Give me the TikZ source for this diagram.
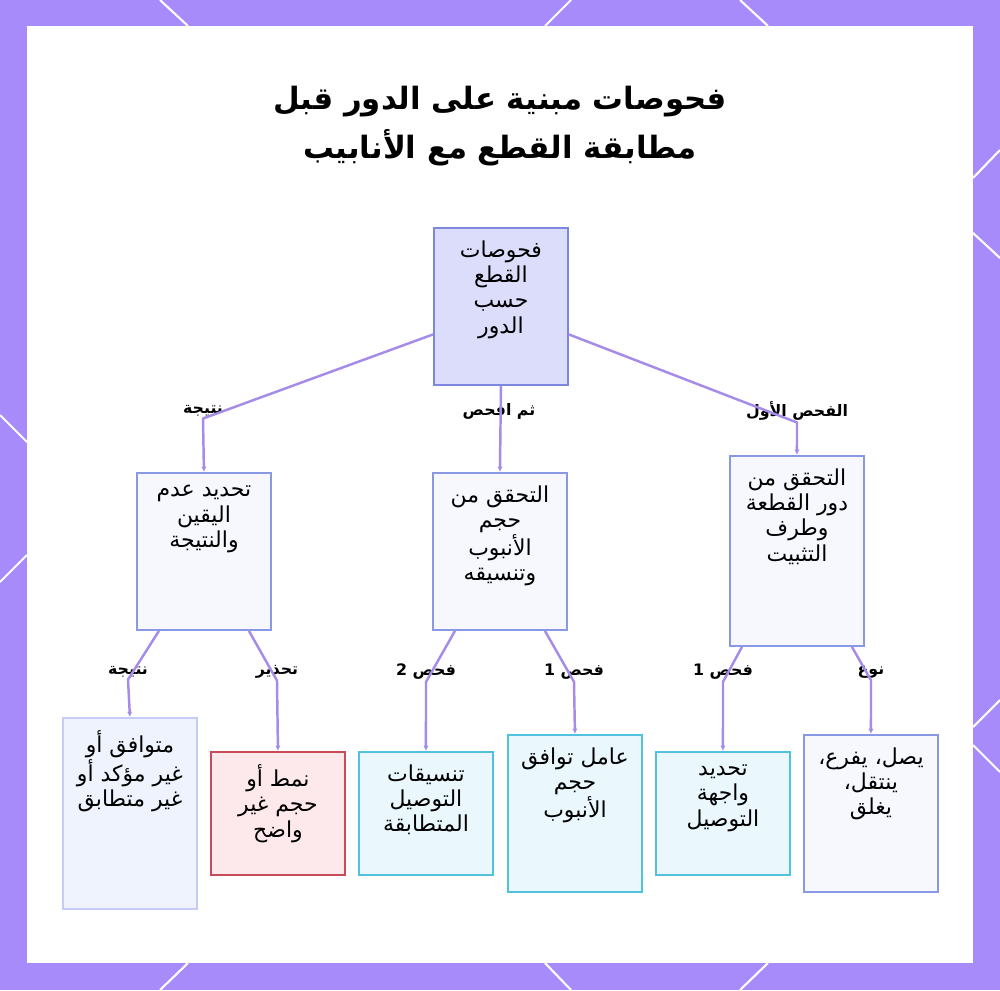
\documentclass[tikz,border=0pt]{standalone}
\usepackage{fontspec}
\usetikzlibrary{positioning,arrows.meta}
\TeXXeTstate=1
\newfontfamily\arabicfont[Script=Arabic]{DejaVu Sans}
\newcommand{\ar}[1]{\beginR #1\endR}

\definecolor{framecol}{RGB}{167,139,250}
\definecolor{edgecol}{RGB}{165,140,232}
\definecolor{rootfill}{RGB}{219,221,251}
\definecolor{rootline}{RGB}{125,135,222}
\definecolor{stepfill}{RGB}{246,248,254}
\definecolor{stepline}{RGB}{137,152,228}
\definecolor{softfill}{RGB}{239,243,254}
\definecolor{softline}{RGB}{196,204,247}
\definecolor{warnfill}{RGB}{253,233,236}
\definecolor{warnline}{RGB}{200,75,90}
\definecolor{cyanfill}{RGB}{234,248,253}
\definecolor{cyanline}{RGB}{82,193,224}

\tikzset{
  box/.style={draw, line width=1.1pt, anchor=north west, minimum width=2.68cm, inner sep=0pt},
  txt/.style={align=center, inner sep=0pt, font=\arabicfont\fontsize{12.5}{14.5}\selectfont},
  lbl/.style={inner sep=1pt, font=\arabicfont\bfseries\fontsize{9}{11}\selectfont},
  edge/.style={draw=edgecol, line width=1.4pt, -{Latex[length=3pt,width=3pt]}},
  deco/.style={white, line width=1.2pt}
}

\begin{document}
\begin{tikzpicture}[x=0.02cm,y=-0.02cm]
    \useasboundingbox (0,0) rectangle (1000,990);

    % Frame
    \fill[framecol] (0,0) rectangle (1000,990);
    \fill[white] (27,26) rectangle (973,963);
    \draw[deco] (160,0) -- (188,26);
    \draw[deco] (571,0) -- (545,26);
    \draw[deco] (740,0) -- (768,26);
    \draw[deco] (188,963) -- (160,990);
    \draw[deco] (545,963) -- (571,990);
    \draw[deco] (768,963) -- (740,990);
    \draw[deco] (0,415) -- (27,442);
    \draw[deco] (27,555) -- (0,582);
    \draw[deco] (1000,150) -- (973,178);
    \draw[deco] (973,233) -- (1000,258);
    \draw[deco] (1000,700) -- (973,727);
    \draw[deco] (973,745) -- (1000,772);

    % Title
    \node[align=center, font=\arabicfont\bfseries\fontsize{17.5}{28}\selectfont] (title) at (500,126)
        {\ar{فحوصات مبنية على الدور قبل}\\\ar{مطابقة القطع مع الأنابيب}};

    % Root
    \node[box, fill=rootfill, draw=rootline, minimum height=3.14cm] (root) at (433,227) {};
    \node[txt, below=0.26cm of root.north] (roottxt) {\ar{فحوصات}\\\ar{القطع}\\\ar{حسب}\\\ar{الدور}};

    % Second row
    \node[box, fill=stepfill, draw=stepline, minimum height=3.14cm] (bA) at (136,472) {};
    \node[txt, below=0.26cm of bA.north] (bAtxt) {\ar{تحديد عدم}\\\ar{اليقين}\\\ar{والنتيجة}};
    \node[box, fill=stepfill, draw=stepline, minimum height=3.14cm] (bB) at (432,472) {};
    \node[txt, below=0.26cm of bB.north] (bBtxt) {\ar{التحقق من}\\\ar{حجم}\\\ar{الأنبوب}\\\ar{وتنسيقه}};
    \node[box, fill=stepfill, draw=stepline, minimum height=3.8cm] (bC) at (729,455) {};
    \node[txt, below=0.26cm of bC.north] (bCtxt) {\ar{التحقق من}\\\ar{دور القطعة}\\\ar{وطرف}\\\ar{التثبيت}};

    % Third row
    \node[box, fill=softfill, draw=softline, minimum height=3.82cm] (c1) at (62,717) {};
    \node[txt, below=0.26cm of c1.north] (c1txt) {\ar{متوافق أو}\\\ar{غير مؤكد أو}\\\ar{غير متطابق}};
    \node[box, fill=warnfill, draw=warnline, minimum height=2.46cm] (c2) at (210,751) {};
    \node[txt, below=0.26cm of c2.north] (c2txt) {\ar{نمط أو}\\\ar{حجم غير}\\\ar{واضح}};
    \node[box, fill=cyanfill, draw=cyanline, minimum height=2.46cm] (c3) at (358,751) {};
    \node[txt, below=0.26cm of c3.north] (c3txt) {\ar{تنسيقات}\\\ar{التوصيل}\\\ar{المتطابقة}};
    \node[box, fill=cyanfill, draw=cyanline, minimum height=3.14cm] (c4) at (507,734) {};
    \node[txt, below=0.26cm of c4.north] (c4txt) {\ar{عامل توافق}\\\ar{حجم}\\\ar{الأنبوب}};
    \node[box, fill=cyanfill, draw=cyanline, minimum height=2.46cm] (c5) at (655,751) {};
    \node[txt, below=0.26cm of c5.north] (c5txt) {\ar{تحديد}\\\ar{واجهة}\\\ar{التوصيل}};
    \node[box, fill=stepfill, draw=stepline, minimum height=3.14cm] (c6) at (803,734) {};
    \node[txt, below=0.26cm of c6.north] (c6txt) {\ar{يصل، يفرع،}\\\ar{ينتقل،}\\\ar{يغلق}};

    % Edge labels
    \node[lbl] (lA) at (203,411) {\ar{نتيجة}};
    \node[lbl] (lB) at (499,411) {\ar{ثم افحص}};
    \node[lbl] (lC) at (797,411) {\ar{الفحص الأول}};
    \node[lbl] (l1) at (128,672) {\ar{نتيجة}};
    \node[lbl] (l2) at (277,672) {\ar{تحذير}};
    \node[lbl] (l3) at (426,672) {\ar{فحص 2}};
    \node[lbl] (l4) at (574,672) {\ar{فحص 1}};
    \node[lbl] (l5) at (723,672) {\ar{فحص 1}};
    \node[lbl] (l6) at (871,672) {\ar{نوع}};

    % Connectors
    \draw[edge] ([yshift=-0.56cm]root.west) -- (lA.south) -- (bA.north);
    \draw[edge] (root.south) -- (bB.north);
    \draw[edge] ([yshift=-0.56cm]root.east) -- (lC.south) -- (bC.north);

    \draw[edge] ([xshift=-0.9cm]bA.south) -- (l1.south) -- (c1.north);
    \draw[edge] ([xshift=0.9cm]bA.south) -- (l2.south) -- (c2.north);
    \draw[edge] ([xshift=-0.9cm]bB.south) -- (l3.south) -- (c3.north);
    \draw[edge] ([xshift=0.9cm]bB.south) -- (l4.south) -- (c4.north);
    \draw[edge] ([xshift=-1.1cm]bC.south) -- (l5.south) -- (c5.north);
    \draw[edge] ([xshift=1.1cm]bC.south) -- (l6.south) -- (c6.north);

\end{tikzpicture}
\end{document}
